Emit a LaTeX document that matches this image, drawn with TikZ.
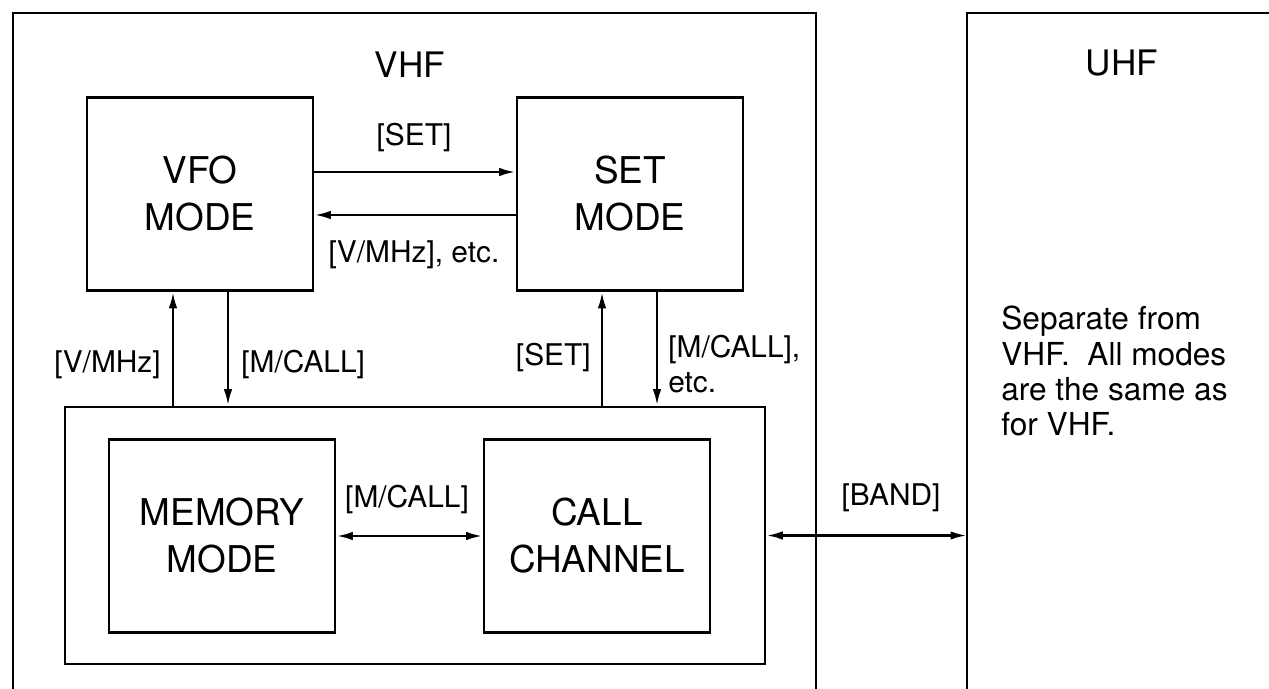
\documentclass[tikz,border=0pt]{standalone}
\usepackage{fontspec}
\setmainfont{TeX Gyre Heros}
\usetikzlibrary{arrows.meta}

\begin{document}
\begin{tikzpicture}[x=0.02cm, y=-0.02cm, >={Latex[length=3.3mm,width=1.7mm]}, line width=1.5pt,
        modebox/.style={draw, align=center, inner sep=0pt, font=\fontsize{21}{26.7}\selectfont, minimum width=4.52cm, minimum height=3.86cm},
        keylbl/.style={inner sep=0pt, font=\fontsize{17}{19.9}\selectfont},
        bandname/.style={inner sep=0pt, font=\fontsize{20}{24}\selectfont}]
        \useasboundingbox (0,0) rectangle (1269,689);

        % Frames: VHF and UHF, open at the bottom
        \draw (13,689) -- (13,13) -- (816,13) -- (816,689);
        \draw (967,689) -- (967,13) -- (1269,13);
        \coordinate (uhf) at (967,13);

        \node[bandname] (vhftitle) at (410,65) {VHF};
        \node[bandname] (uhftitle) at (1122,63) {UHF};

        % Top row: VFO and SET modes
        \node[modebox] (vfo) at (200,194) {VFO\\MODE};
        \node[modebox] (set) at (630,194) {SET\\MODE};

        \draw[->] ([yshift=0.44cm]vfo.east) -- ([yshift=0.44cm]set.west);
        \draw[->] ([yshift=-0.42cm]set.west) -- ([yshift=-0.42cm]vfo.east);

        \node[keylbl] (setkey) at (414,138) {[SET]};
        \node[keylbl] (vmhzetc) at (414,255) {[V/MHz], etc.};

        % Bottom: memory and call channel group
        \node[draw, minimum width=14cm, minimum height=5.14cm] (grp) at (415,535.5) {};
        \node[modebox] (mem) at (222,536) {MEMORY\\MODE};
        \node[modebox] (call) at (597,536) {CALL\\CHANNEL};

        \draw[<->] (mem.east) -- (call.west);
        \node[keylbl] (mcallmid) at (407,500) {[M/CALL]};

        % Up and down between the rows
        \draw[->] ([xshift=-0.54cm]vfo.south |- grp.north) -- ([xshift=-0.54cm]vfo.south);
        \draw[->] ([xshift=0.56cm]vfo.south) -- ([xshift=0.56cm]vfo.south |- grp.north);
        \draw[->] ([xshift=-0.56cm]set.south |- grp.north) -- ([xshift=-0.56cm]set.south);
        \draw[->] ([xshift=0.54cm]set.south) -- ([xshift=0.54cm]set.south |- grp.north);

        \node[keylbl, anchor=east] (vmhzup) at (162,365) {[V/MHz]};
        \node[keylbl, anchor=west] (mcalldown) at (240,365) {[M/CALL]};
        \node[keylbl, anchor=east] (setup) at (592,358) {[SET]};
        \node[keylbl, anchor=west, align=left] (mcalletc) at (667,364) {[M/CALL],\\etc.};

        % Band switch to UHF
        \draw[<->] (grp.east) -- (grp.east -| uhf);
        \node[keylbl] (bandkey) at (891,498) {[BAND]};

        \node[anchor=west, align=left, inner sep=0pt, font=\fontsize{18}{20}\selectfont] (uhfnote) at (1000,371)
            {Separate from\\VHF.\ \ All modes\\are the same as\\for VHF.};
    \end{tikzpicture}
\end{document}
